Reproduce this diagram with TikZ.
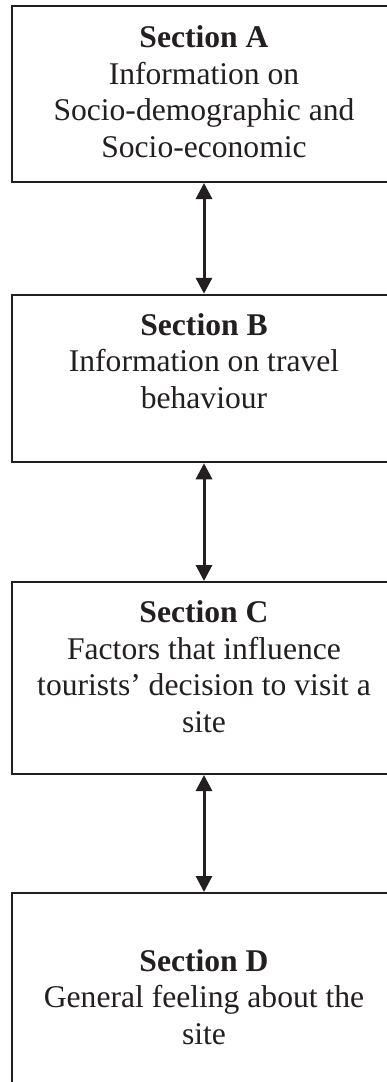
\documentclass[tikz,border=0pt]{standalone}
\usepackage{fontspec}
\setmainfont{Liberation Serif}
\usetikzlibrary{arrows.meta}
\definecolor{ink}{HTML}{231F20}
\tikzset{
  secbox/.style={draw=ink, line width=2pt, inner sep=0pt, minimum width=384pt},
  % anchor=base of a multi-line node sits on its last line
  sectext/.style={text=ink, align=center, inner sep=0pt, anchor=base,
    font=\fontsize{31.6}{36.5}\selectfont},
  link/.style={draw=ink, line width=3pt,
    {Triangle[length=16pt,width=16pt]}-{Triangle[length=16pt,width=16pt]}},
}
\begin{document}
\begin{tikzpicture}[x=1pt,y=-1pt]
\useasboundingbox (0,0) rectangle (387,1082);
\clip (0,0) rectangle (387,1082);
\fill[white] (0,0) rectangle (387,1082);

% section boxes (right and lower edges run past the page)
\node[secbox, minimum height=176pt] (A) at (204,94) {};
\node[secbox, minimum height=167.5pt] (B) at (204,378.5) {};
\node[secbox, minimum height=192pt] (C) at (204,678) {};
\node[secbox, minimum height=240pt] (D) at (204,1013) {};

% section texts
\node[sectext] (tA) at (204,157) {\textbf{Section A}\\Information on\\Socio-demographic and\\Socio-economic};
\node[sectext] (tB) at (204,408) {\textbf{Section B}\\Information on travel\\behaviour};
\node[sectext] (tC) at (204,732) {\textbf{Section C}\\Factors that influence\\tourists’ decision to visit a\\site};
\node[sectext] (tD) at (204,1044) {\textbf{Section D}\\General feeling about the\\site};

% two-way links between consecutive sections
\draw[link] (A.south) -- (B.north);
\draw[link] (B.south) -- (C.north);
\draw[link] (C.south) -- (D.north);
\end{tikzpicture}
\end{document}
